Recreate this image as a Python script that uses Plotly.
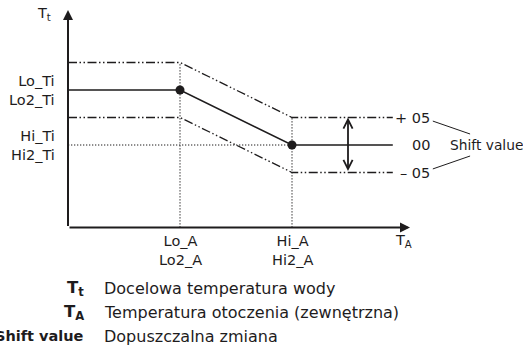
import plotly.graph_objects as go

# ---- values -------------------------------------------------------------
ambient_breaks = [0, 4, 8, 11.6]          # T_A: start, Lo_A, Hi_A, end of curve
target_water = [5, 5, 3, 3]               # T_t at each break
shift_value = 1                           # allowed shift band (+/-)
knee_ambient = [4, 8]                     # Lo_A, Hi_A
knee_target = [5, 3]                      # Lo_Ti, Hi_Ti
x_tick_labels = ["Lo_A<br>Lo2_A", "Hi_A<br>Hi2_A"]
y_tick_labels = ["Lo_Ti<br>Lo2_Ti", "Hi_Ti<br>Hi2_Ti"]
shift_labels = ["+ 05", "00", "\u2013 05"]
legend_symbols = ["<b>T<sub>t</sub></b>", "<b>T<sub>A</sub></b>", "<b>Shift value</b>"]
legend_texts = ["Docelowa temperatura wody",
                "Temperatura otoczenia (zewnętrzna)",
                "Dopuszczalna zmiana"]

# ---- layout geometry ----------------------------------------------------
W, H = 523, 347
X0_PX, XU = 68, 28.0      # pixel of origin, pixels per T_A unit
Y0_PX, YU = 227.5, 27.5   # pixel of origin, pixels per T_t unit
x_axis_end = (410 - X0_PX) / XU
y_axis_end = (Y0_PX - 10) / YU
arrow_x = 10.0            # position of the shift double arrow

INK = "#1e1c1d"
FONT = "DejaVu Sans"
DASHDOT = "9px,2.5px,1.5px,2.5px,1.5px,2.5px"
DOTTED = "1.3px,1.7px"


def paper(px, py):
    return px / W, 1 - py / H


fig = go.Figure()

upper = [t + shift_value for t in target_water]
lower = [t - shift_value for t in target_water]

# dotted guides
hi_t = knee_target[1]
fig.add_trace(go.Scatter(x=[0, knee_ambient[1]], y=[hi_t, hi_t], mode="lines",
                         line=dict(color=INK, width=1, dash=DOTTED)))
fig.add_trace(go.Scatter(x=[knee_ambient[0], knee_ambient[0]],
                         y=[0, knee_target[0] + shift_value], mode="lines",
                         line=dict(color=INK, width=1, dash=DOTTED)))
fig.add_trace(go.Scatter(x=[knee_ambient[1], knee_ambient[1]],
                         y=[0, knee_target[1] + shift_value], mode="lines",
                         line=dict(color=INK, width=1, dash=DOTTED)))

# shift band
for band in (upper, lower):
    fig.add_trace(go.Scatter(x=ambient_breaks, y=band, mode="lines",
                             line=dict(color=INK, width=1.3, dash=DASHDOT)))

# heating curve
fig.add_trace(go.Scatter(x=ambient_breaks, y=target_water, mode="lines",
                         line=dict(color=INK, width=1.6)))
fig.add_trace(go.Scatter(x=knee_ambient, y=knee_target, mode="markers",
                         marker=dict(color=INK, size=9)))

ann = []
# axes with arrowheads
ann.append(dict(x=x_axis_end, y=0, ax=0, ay=0, xref="x", yref="y",
                axref="x", ayref="y", text="", showarrow=True,
                arrowhead=2, arrowsize=1, arrowwidth=2, arrowcolor=INK,
                standoff=0))
ann.append(dict(x=0, y=y_axis_end, ax=0, ay=0, xref="x", yref="y",
                axref="x", ayref="y", text="", showarrow=True,
                arrowhead=2, arrowsize=1, arrowwidth=2, arrowcolor=INK,
                standoff=0))
# shift double arrow
ann.append(dict(x=arrow_x, y=hi_t + shift_value, ax=arrow_x, ay=hi_t - shift_value,
                xref="x", yref="y", axref="x", ayref="y", text="",
                showarrow=True, arrowside="end+start",
                arrowhead=5, startarrowhead=5, arrowsize=1, startarrowsize=1,
                arrowwidth=1.8, arrowcolor=INK, standoff=0, startstandoff=0))

lab_font = dict(family=FONT, size=14.5, color=INK)

# T_t label at top of vertical axis
ann.append(dict(x=-0.55, y=y_axis_end - 0.15, xref="x", yref="y",
                text="T<sub>t</sub>", showarrow=False, xanchor="right",
                yanchor="middle", font=lab_font))
# T_A label at end of horizontal axis
ann.append(dict(x=x_axis_end - 0.6, y=0, xref="x", yref="y",
                text="T<sub>A</sub>", showarrow=False, xanchor="left",
                yanchor="top", yshift=-2, font=lab_font))

# y tick labels
for val, txt in zip(knee_target, y_tick_labels):
    ann.append(dict(x=-0.4, y=val, xref="x", yref="y", text=txt,
                    showarrow=False, xanchor="right", yanchor="middle",
                    align="right", font=lab_font))
# x tick labels
for val, txt in zip(knee_ambient, x_tick_labels):
    ann.append(dict(x=val, y=0, xref="x", yref="y", text=txt,
                    showarrow=False, xanchor="center", yanchor="top",
                    yshift=-3, align="center", font=lab_font))

# shift labels at right end of band
label_x = ambient_breaks[-1] + 1.4
for off, txt in zip([shift_value, 0, -shift_value], shift_labels):
    ann.append(dict(x=label_x, y=hi_t + off, xref="x", yref="y", text=txt,
                    showarrow=False, xanchor="right", yanchor="middle",
                    font=lab_font))
name_x = label_x + 0.58
ann.append(dict(x=name_x, y=hi_t, xref="x", yref="y", text="Shift value",
                showarrow=False, xanchor="left", yanchor="middle",
                font=dict(family=FONT, size=13.8, color=INK)))

# leader lines from +/- labels to the name
shapes = []
for sgn in (1, -1):
    shapes.append(dict(type="line", xref="x", yref="y",
                       x0=label_x + 0.03, y0=hi_t + sgn * 0.87,
                       x1=label_x + 1.36, y1=hi_t + sgn * 0.4,
                       line=dict(color=INK, width=1)))

# legend below the chart
row_y = [288.5, 312.5, 336]
sym_sizes = [16.5, 16.5, 14.5]
for py, sym, txt, ss in zip(row_y, legend_symbols, legend_texts, sym_sizes):
    sx, sy = paper(86, py)
    ann.append(dict(x=sx, y=sy, xref="paper", yref="paper", text=sym,
                    showarrow=False, xanchor="right", yanchor="middle",
                    font=dict(family=FONT, size=ss, color=INK)))
    tx, ty = paper(102, py)
    ann.append(dict(x=tx, y=ty, xref="paper", yref="paper", text=txt,
                    showarrow=False, xanchor="left", yanchor="middle",
                    font=dict(family=FONT, size=16, color=INK)))

fig.update_layout(
    width=W, height=H,
    margin=dict(l=0, r=0, t=0, b=0),
    paper_bgcolor="white", plot_bgcolor="white",
    showlegend=False,
    xaxis=dict(range=[-X0_PX / XU, (W - X0_PX) / XU], visible=False,
               fixedrange=True),
    yaxis=dict(range=[(Y0_PX - H) / YU, Y0_PX / YU], visible=False,
               fixedrange=True),
    annotations=ann,
    shapes=shapes,
)

fig.write_html("out.html", config=dict(displayModeBar=False))
